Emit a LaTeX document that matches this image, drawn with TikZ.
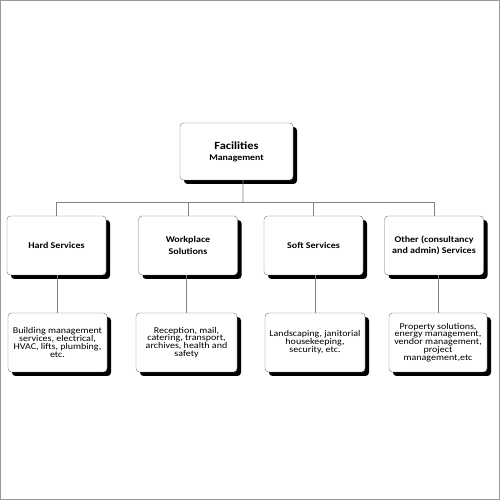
\documentclass[tikz,border=0pt]{standalone}
\usepackage{fontspec}
\setmainfont[FakeStretch=1.13]{Carlito}
\usetikzlibrary{shadows}

\begin{document}
\begin{tikzpicture}[x=1bp,y=1bp,
  box/.style={draw=black!55, fill=white, rounded corners=3.5bp, thin,
    minimum width=99bp, minimum height=59bp, inner sep=2bp, align=center,
    text=black,
    drop shadow={shadow xshift=4bp, shadow yshift=-4bp, fill=black, opacity=1}},
  headbox/.style={box, font=\bfseries\fontsize{8.9}{11.3}\selectfont},
  infobox/.style={box, font=\fontsize{8.9}{7.9}\selectfont},
  link/.style={draw=black!50, line width=0.6bp}]
  \useasboundingbox (0,0) rectangle (500,500);
  \draw[black!40, line width=1.2bp] (0.6,0.6) rectangle (499.4,499.4);

  %% top
  \node[box, minimum width=113bp, minimum height=57bp, font=\bfseries] (fm) at (236.5,348.5)
    {{\fontsize{11}{12}\selectfont Facilities}\\[-1bp]{\fontsize{8.7}{12}\selectfont Management}};

  %% services
  \node[headbox] (hard) at (56.5,254.5) {Hard Services};
  \node[headbox] (work) at (188,254.5) {Workplace\\Solutions};
  \node[headbox] (soft) at (313.5,254.5) {Soft Services};
  \node[headbox] (other) at (434,254.5) {Other (consultancy\\and admin) Services};

  %% details
  \node[infobox] (bldg) at (57.5,157.5) {Building management\\services, electrical,\\HVAC, lifts, plumbing,\\etc.};
  \node[infobox, minimum width=101bp] (recp) at (186.5,157.5) {Reception, mail,\\catering, transport,\\archives, health and\\safety};
  \node[infobox, minimum width=100bp] (land) at (315,157.5) {Landscaping, janitorial\\housekeeping,\\security, etc.};
  \node[infobox, minimum width=98bp] (prop) at (438,157.5) {Property solutions,\\energy management,\\vendor management,\\project\\management,etc};

  %% connectors
  \coordinate (bus) at (243,298);
  \draw[link] ([xshift=6.5bp]fm.south) -- (bus);
  \draw[link] (hard.north) -- (hard.north |- bus) -- (other.north |- bus) -- (other.north);
  \draw[link] (work.north) -- (work.north |- bus);
  \draw[link] (soft.north) -- (soft.north |- bus);
  \draw[link] (bldg.north |- hard.south) -- (bldg.north);
  \draw[link] (recp.north |- work.south) -- (recp.north);
  \draw[link] (land.north |- soft.south) -- (land.north);
  \draw[link] (prop.north |- other.south) -- (prop.north);
\end{tikzpicture}
\end{document}
